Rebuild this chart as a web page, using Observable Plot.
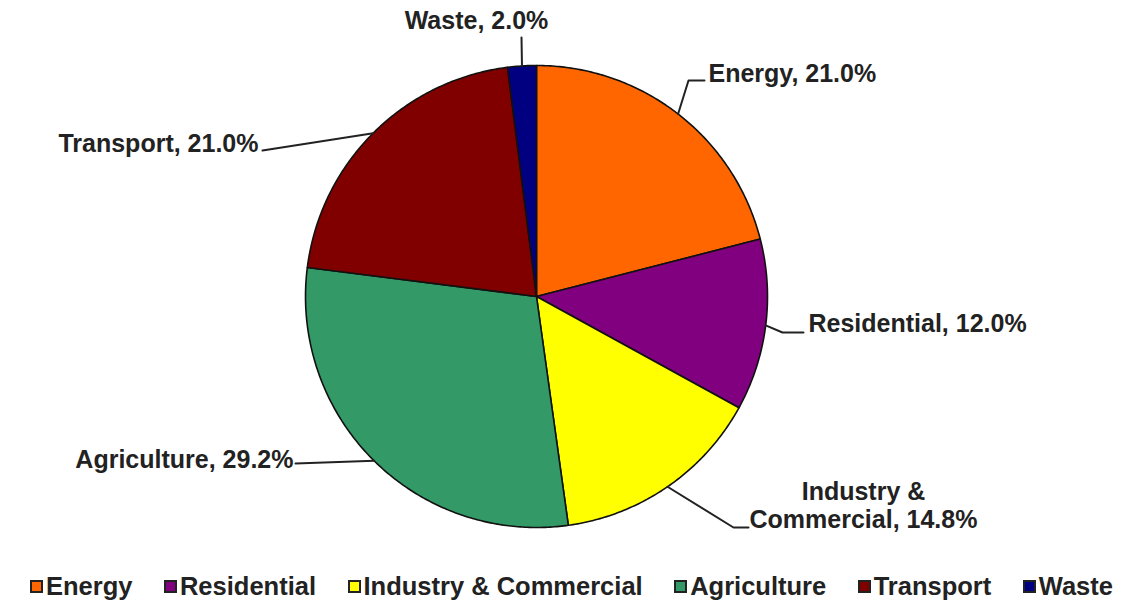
<!DOCTYPE html>
<html>
<head>
<meta charset="utf-8">
<script src="https://cdn.jsdelivr.net/npm/d3@7"></script>
<script src="https://cdn.jsdelivr.net/npm/@observablehq/plot@0.6"></script>
<style>
  html, body { margin: 0; padding: 0; background: #fff; }
  #chart { width: 1132px; }
  .legend { display: flex; justify-content: space-between; align-items: center; padding: 10px 19px 0 30px; height: 33px;
            font-family: "Liberation Sans", Arial, sans-serif; font-weight: bold; font-size: 25.5px; color: #222; }
  .legend .item { display: flex; align-items: center; white-space: nowrap; }
  .legend .sw { width: 9px; height: 9px; border: 2px solid #222; margin-right: 3px; }
</style>
</head>
<body>
<div id="chart"></div>
<script>
// ---- data ----
const categories = ["Energy", "Residential", "Industry & Commercial", "Agriculture", "Transport", "Waste"];
const shares = [21.0, 12.0, 14.8, 29.2, 21.0, 2.0];
const labelTexts = ["Energy, 21.0%", "Residential, 12.0%", "Industry &\nCommercial, 14.8%", "Agriculture, 29.2%", "Transport, 21.0%", "Waste, 2.0%"];
const colors = ["#ff6600", "#800080", "#ffff00", "#339966", "#800000", "#000080"];

// ---- layout (pixels) ----
const W = 1132, H = 560, CX = 536, CY = 296, R = 231;
// leader elbow/end points and label anchors, in pixel offsets from the pie centre
const labelLayout = [
  {pts: [[152, -216], [168, -216]], tx: 172, ty: -223, anchor: "start"},
  {pts: [[246, 36], [267, 36]], tx: 272, ty: 27, anchor: "start"},
  {pts: [[197, 231], [212, 231]], tx: 327, ty: 209, anchor: "middle"},
  {pts: [[-241, 167]], tx: -243, ty: 163, anchor: "end"},
  {pts: [[-274, -146]], tx: -278, ty: -153, anchor: "end"},
  {pts: [[-15, -259]], tx: -60, ty: -276, anchor: "middle"}
];

const px = v => v / R; // pixel offset -> data units
const pie = d3.pie().sort(null).value(d => d.value)(categories.map((c, i) => ({name: c, value: shares[i]})));

// slice polygons
const wedgePts = [];
pie.forEach(s => {
  const n = Math.max(2, Math.ceil((s.endAngle - s.startAngle) / 0.01));
  wedgePts.push({name: s.data.name, x: 0, y: 0});
  for (let k = 0; k <= n; k++) {
    const a = s.startAngle + (s.endAngle - s.startAngle) * k / n;
    wedgePts.push({name: s.data.name, x: Math.sin(a), y: Math.cos(a)});
  }
  wedgePts.push({name: s.data.name, x: 0, y: 0});
});

// leader lines
const leaderPts = [];
const labels = [];
pie.forEach((s, i) => {
  const a = (s.startAngle + s.endAngle) / 2;
  const L = labelLayout[i];
  leaderPts.push({name: s.data.name, x: Math.sin(a), y: Math.cos(a)});
  L.pts.forEach(p => leaderPts.push({name: s.data.name, x: px(p[0]), y: -px(p[1])}));
  labels.push({name: s.data.name, text: labelTexts[i], x: px(L.tx), y: -px(L.ty), anchor: L.anchor});
});

const xDom = [px(-CX), px(W - CX)];
const yDom = [-px(H - CY), px(CY)];

const font = "'Liberation Sans', Arial, sans-serif";
const plot = Plot.plot({
  width: W, height: H, margin: 0,
  x: {domain: xDom, axis: null},
  y: {domain: yDom, axis: null},
  color: {domain: categories, range: colors},
  style: {fontFamily: font, background: "#fff"},
  marks: [
    Plot.line(wedgePts, {x: "x", y: "y", z: "name", fill: "name", stroke: "#111", strokeWidth: 1.6, curve: "linear", strokeLinejoin: "round"}),
    Plot.line(leaderPts, {x: "x", y: "y", z: "name", stroke: "#222", strokeWidth: 2, curve: "linear"}),
    ...["start", "middle", "end"].map(anc => Plot.text(labels.filter(d => d.anchor === anc), {
      x: "x", y: "y", text: "text", textAnchor: anc, fontSize: 25, fontWeight: "bold", fill: "#222", lineHeight: 1.12
    }))
  ]
});
document.getElementById("chart").appendChild(plot);

// legend
const leg = d3.select("#chart").append("div").attr("class", "legend");
categories.forEach((c, i) => {
  const it = leg.append("div").attr("class", "item");
  it.append("div").attr("class", "sw").style("background", colors[i]);
  it.append("span").text(c);
});
</script>
</body>
</html>
